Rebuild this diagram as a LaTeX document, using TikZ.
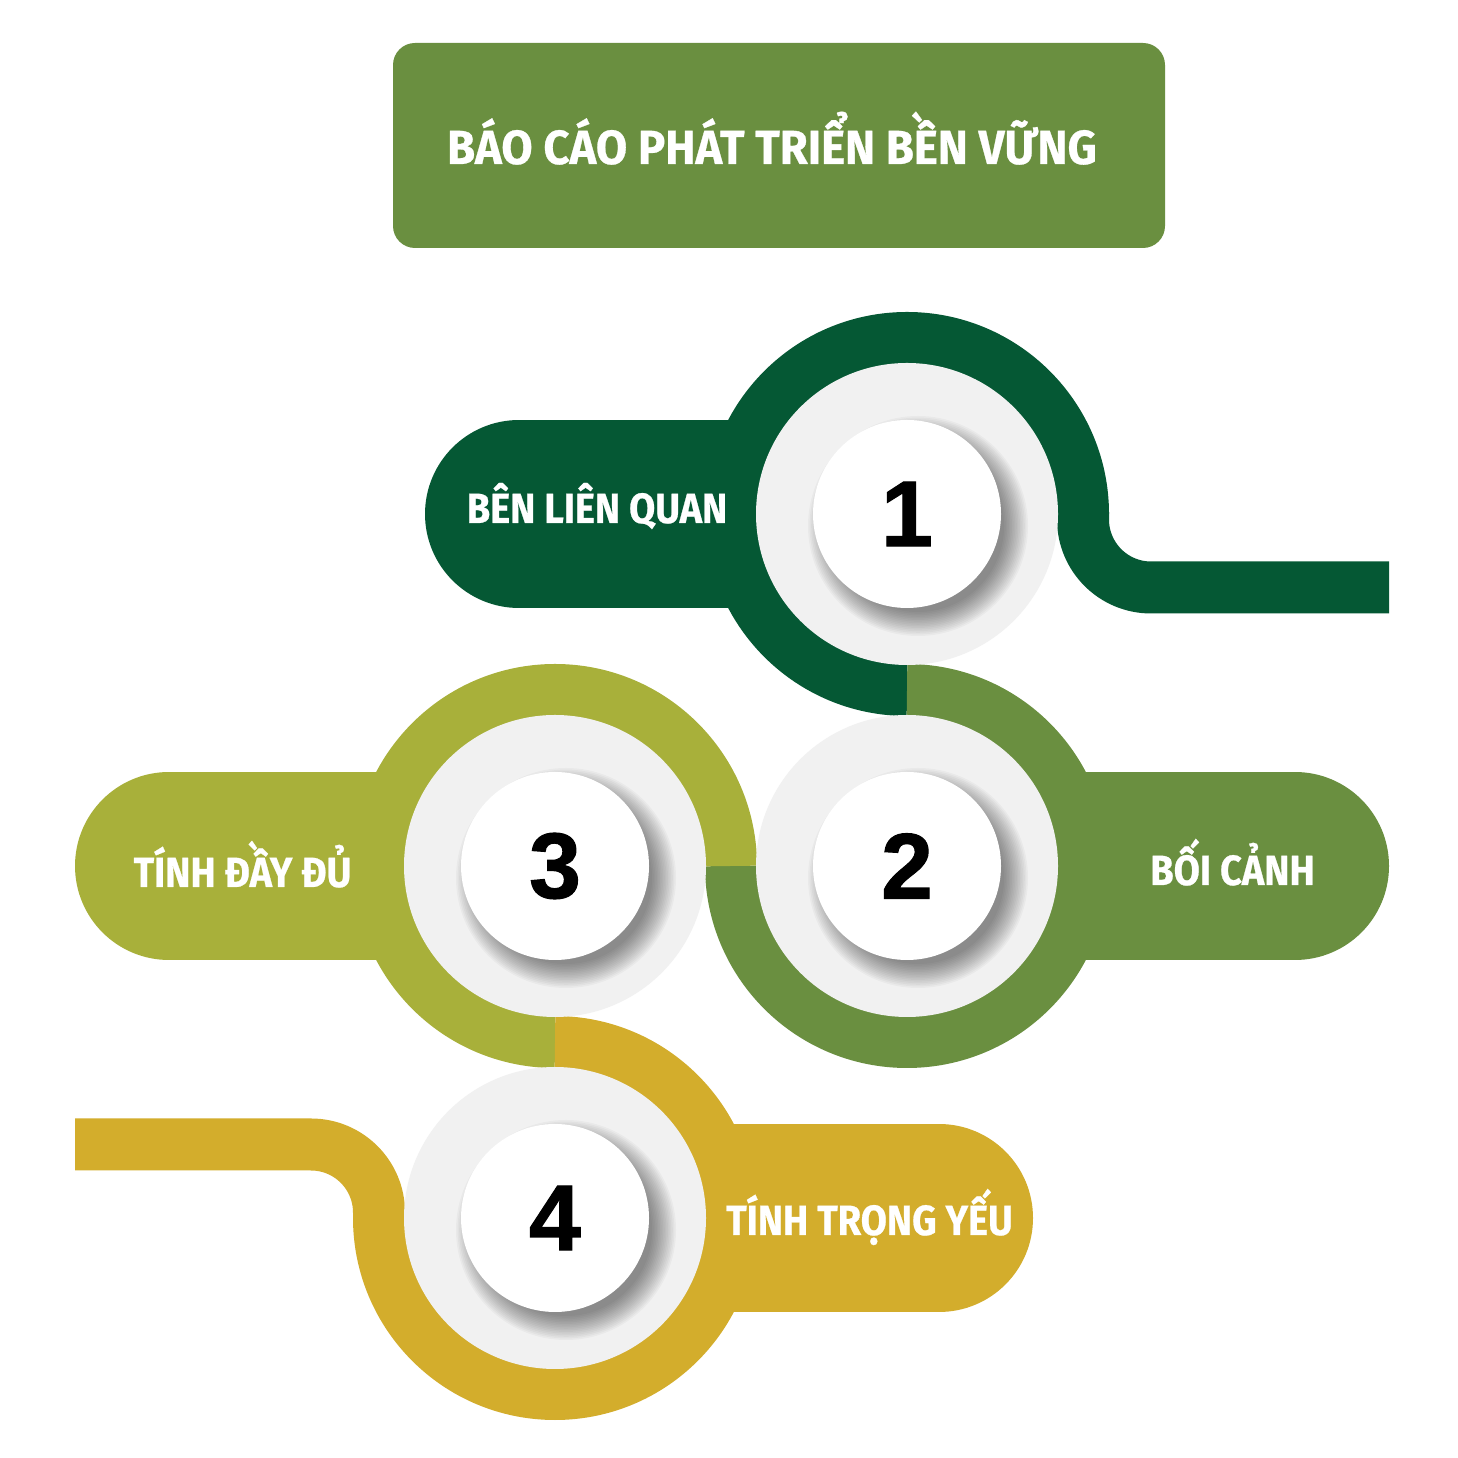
\documentclass[tikz,border=0pt]{standalone}
\usepackage{fontspec}
\setmainfont{Fira Sans}
\newfontfamily\labelfont[FakeStretch=0.9, BoldFeatures={FakeBold=0.6}]{Fira Sans}
\newfontfamily\titlefont[FakeStretch=0.95, BoldFeatures={FakeBold=0.6}]{Fira Sans}
\newfontfamily\numfont[BoldFeatures={FakeBold=1.2}]{Liberation Sans}
\usepackage{xcolor}
\usepackage{tikz}
\definecolor{green1}{RGB}{5,88,52}
\definecolor{green2}{RGB}{106,143,64}
\definecolor{olive}{RGB}{168,176,58}
\definecolor{gold}{RGB}{211,173,44}
\definecolor{discgray}{RGB}{241,241,241}
\tikzset{
	ring/.style={line width=5.2mm},
	pill/.style={line width=18.8mm, line cap=round},
	disc/.style={fill=discgray},
	num node/.style={font=\numfont\bfseries\fontsize{26.5}{26.5}\selectfont, inner sep=0pt},
	label node/.style={font=\labelfont\bfseries\fontsize{12}{12}\selectfont, text=white, inner sep=0pt, anchor=base},
	title node/.style={font=\titlefont\bfseries\fontsize{13.6}{13.6}\selectfont, text=white, inner sep=0pt, anchor=base}
}

\begin{document}
\begin{tikzpicture}
	\useasboundingbox[fill=white] (0,0) rectangle (14.58,14.58);
	\coordinate (c1) at (9.07,9.44);
	\coordinate (c2) at (9.07,5.92);
	\coordinate (c3) at (5.55,5.92);
	\coordinate (c4) at (5.55,2.40);
	\fill[green2, rounded corners=0.22cm] (3.93,12.10) rectangle (11.65,14.15);
	\node[title node] (title) at (7.72,12.94) {BÁO CÁO PHÁT TRIỂN BỀN VỮNG};
	% pills
	\draw[pill, green1] ([xshift=-3.88cm]c1) -- (c1);
	\draw[pill, green2] (c2) -- ([xshift=3.88cm]c2);
	\draw[pill, olive] ([xshift=-3.86cm]c3) -- (c3);
	\draw[pill, gold] (c4) -- ([xshift=3.84cm]c4);
	% rings and tails
	\draw[ring, green1] ([yshift=-1.76cm]c1) arc[start angle=270, end angle=0, radius=1.76];
	\draw[ring, green1, rounded corners=0.68cm] ([shift={(1.76,0.02)}]c1) |- (13.89,8.705);
	\draw[ring, green2] ([yshift=1.76cm]c2) arc[start angle=90, end angle=-180, radius=1.76];
	\draw[ring, olive] ([xshift=1.76cm]c3) arc[start angle=0, end angle=270, radius=1.76];
	\draw[ring, gold] ([yshift=1.76cm]c4) arc[start angle=90, end angle=-180, radius=1.76];
	\draw[ring, gold, rounded corners=0.68cm] ([shift={(-1.76,-0.02)}]c4) |- (0.75,3.135);
	% discs
	\foreach \c in {c1,c2,c3,c4}{
		\fill[disc] (\c) circle[radius=1.51];
		\foreach \k in {0,...,15}
			\fill[black, opacity=0.032] ([shift={(0.11,-0.12)}]\c) circle[radius=0.86+0.016*\k];
		\fill[white] (\c) circle[radius=0.94];
	}
	\node[num node] (n1) at (c1) {1};
	\node[num node] (n2) at (c2) {2};
	\node[num node] (n3) at (c3) {3};
	\node[num node] (n4) at (c4) {4};
	\node[label node] (l1) at (5.97,9.35) {BÊN LIÊN QUAN};
	\node[label node] (l2) at (12.325,5.73) {BỐI CẢNH};
	\node[label node] (l3) at (2.425,5.71) {TÍNH ĐẦY ĐỦ};
	\node[label node] (l4) at (8.695,2.23) {TÍNH TRỌNG YẾU};
\end{tikzpicture}
\end{document}
